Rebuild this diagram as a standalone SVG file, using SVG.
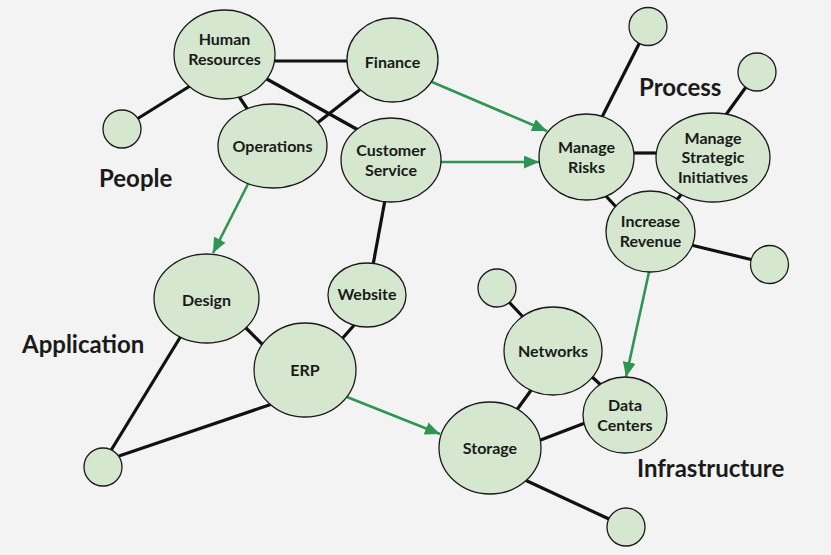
<svg xmlns="http://www.w3.org/2000/svg" width="831" height="555" viewBox="0 0 831 555">
<style>
.n ellipse,.n circle{fill:#d5e8cf;stroke:#1a1a1a;stroke-width:1.3}
.n text{font-family:Lato,"Noto Sans",sans-serif;font-weight:700;font-size:16px;fill:#1a1a1a;text-anchor:middle}
.lbl{font-family:Lato,"Noto Sans",sans-serif;font-weight:700;font-size:24px;fill:#1a1a1a}
.c line{stroke:#111;stroke-width:3.2}
.c line.g{stroke:#2e9652;stroke-width:2.6;marker-end:url(#ah)}
</style>
<defs>
<marker id="ah" markerUnits="userSpaceOnUse" markerWidth="15" markerHeight="13" refX="15" refY="6.5" orient="auto">
<path d="M0,0 L15,6.5 L0,13 z" fill="#2e9652"/>
</marker>
</defs>
<rect width="831" height="555" fill="#f3f3f3"/>
<g id="connectors" class="c">
<line x1="275" y1="61" x2="347" y2="61"/>
<line x1="190" y1="86" x2="137" y2="119"/>
<line x1="238" y1="95" x2="248" y2="110"/>
<line x1="265" y1="78" x2="360" y2="131"/>
<line x1="362" y1="88" x2="316" y2="124"/>
<line x1="385" y1="200" x2="373" y2="265"/>
<line x1="356" y1="323" x2="341" y2="340"/>
<line x1="244" y1="326" x2="265" y2="347"/>
<line x1="181" y1="336" x2="110" y2="452"/>
<line x1="272" y1="404" x2="119" y2="456"/>
<line x1="601" y1="119" x2="640" y2="42"/>
<line x1="632" y1="153" x2="658" y2="153"/>
<line x1="604" y1="194" x2="619" y2="210"/>
<line x1="684" y1="191" x2="676" y2="201"/>
<line x1="725" y1="116" x2="746" y2="87"/>
<line x1="691" y1="245" x2="753" y2="260"/>
<line x1="508" y1="301" x2="525" y2="319"/>
<line x1="532" y1="389" x2="516" y2="411"/>
<line x1="590" y1="375" x2="603" y2="387"/>
<line x1="538" y1="441" x2="585" y2="423"/>
<line x1="525" y1="480" x2="609" y2="519"/>
<line class="g" x1="432" y1="82" x2="547" y2="131"/>
<line class="g" x1="441" y1="162" x2="539" y2="162"/>
<line class="g" x1="248" y1="184" x2="213" y2="253"/>
<line class="g" x1="649" y1="272" x2="626" y2="377"/>
<line class="g" x1="347" y1="397" x2="440" y2="434"/>
</g>
<g id="hr" class="n"><ellipse cx="224.5" cy="54.5" rx="50.5" ry="44.5"/><text x="224.5" y="45">Human</text><text x="224.5" y="64.5">Resources</text></g>
<g id="finance" class="n"><ellipse cx="392.5" cy="60" rx="45.5" ry="42"/><text x="392.5" y="67.5">Finance</text></g>
<g id="operations" class="n"><ellipse cx="272.5" cy="146" rx="54.5" ry="42"/><text x="272.5" y="151.5">Operations</text></g>
<g id="customer-service" class="n"><ellipse cx="391" cy="160" rx="50" ry="42"/><text x="391" y="156">Customer</text><text x="391" y="175.5">Service</text></g>
<g id="people-dot" class="n"><circle cx="122" cy="129" r="19"/></g>
<g id="manage-risks" class="n"><ellipse cx="586.5" cy="157" rx="47.5" ry="43"/><text x="586.5" y="153">Manage</text><text x="586.5" y="172.5">Risks</text></g>
<g id="msi" class="n"><ellipse cx="713" cy="157.5" rx="57" ry="44.5"/><text x="713" y="143.5">Manage</text><text x="713" y="163">Strategic</text><text x="713" y="182.5">Initiatives</text></g>
<g id="increase-revenue" class="n"><ellipse cx="650.5" cy="231.5" rx="44.5" ry="40.5"/><text x="650.5" y="227">Increase</text><text x="650.5" y="246.5">Revenue</text></g>
<g id="process-dot1" class="n"><circle cx="648" cy="26.5" r="19"/></g>
<g id="process-dot2" class="n"><circle cx="757" cy="72" r="19"/></g>
<g id="process-dot3" class="n"><circle cx="769.5" cy="264.5" r="19"/></g>
<g id="design" class="n"><ellipse cx="206.5" cy="298.5" rx="52.5" ry="44.5"/><text x="206.5" y="305.5">Design</text></g>
<g id="website" class="n"><ellipse cx="367" cy="295" rx="39" ry="32"/><text x="367" y="300">Website</text></g>
<g id="erp" class="n"><ellipse cx="305" cy="370" rx="51" ry="47"/><text x="305" y="375.5">ERP</text></g>
<g id="app-dot" class="n"><circle cx="103" cy="467" r="19"/></g>
<g id="networks" class="n"><ellipse cx="553" cy="351" rx="49" ry="44"/><text x="553" y="356.5">Networks</text></g>
<g id="data-centers" class="n"><ellipse cx="625" cy="415" rx="42" ry="38"/><text x="625" y="411">Data</text><text x="625" y="430.5">Centers</text></g>
<g id="storage" class="n"><ellipse cx="490" cy="448" rx="51" ry="46"/><text x="490" y="453.5">Storage</text></g>
<g id="infra-dot1" class="n"><circle cx="497" cy="288" r="19"/></g>
<g id="infra-dot2" class="n"><circle cx="626" cy="527" r="19"/></g>
<g id="labels">
<text class="lbl" x="99" y="187">People</text>
<text class="lbl" x="639" y="96">Process</text>
<text class="lbl" x="22" y="353">Application</text>
<text class="lbl" x="637" y="477">Infrastructure</text>
</g>
</svg>
